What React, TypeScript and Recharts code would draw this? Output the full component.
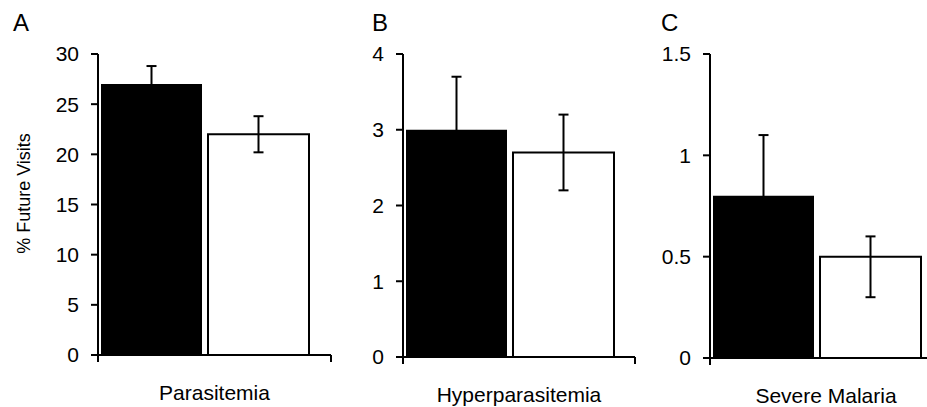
import { BarChart, Bar, XAxis, YAxis, ErrorBar } from 'recharts';

const categories = ['Parasitemia', 'Hyperparasitemia', 'Severe Malaria'];
const panelLetters = ['A', 'B', 'C'];
const blackValues = [27, 3, 0.8];
const blackErrors = [1.8, 0.7, 0.3];
const whiteValues = [22, 2.7, 0.5];
const whiteErrors: [number, number][] = [[1.8, 1.8], [0.5, 0.5], [0.2, 0.1]];
const yTicks = [
  [0, 5, 10, 15, 20, 25, 30],
  [0, 1, 2, 3, 4],
  [0, 0.5, 1, 1.5],
];
const yLabel = '% Future Visits';

const FONT = '"Liberation Sans", Arial, sans-serif';
const Y_AXIS_W = 60;
const X_AXIS_H = 44;
const TOP = 54;
const PAD_L = 3;
const PAD_R = 22;

// page layout of each panel
const panels = [
  { left: 0, width: 340, marginLeft: 38, marginRight: 9, zeroY: 355, letterX: 13 },
  { left: 340, width: 305, marginLeft: 3, marginRight: 10, zeroY: 357, letterX: 372 },
  { left: 645, width: 305, marginLeft: 5, marginRight: 8, zeroY: 358, letterX: 661 },
];

function makeXTick(plotWidth: number) {
  return (props: any) => {
    const { x, y, payload } = props;
    const inner = plotWidth - PAD_L - PAD_R;
    const x0 = x - PAD_L - inner / 2;
    const x1 = x0 + plotWidth;
    return (
      <g>
        <line x1={x0} y1={y} x2={x0} y2={y + 7} stroke="#000" strokeWidth={2} />
        <line x1={x1} y1={y} x2={x1} y2={y + 7} stroke="#000" strokeWidth={2} />
        <text
          x={(x0 + x1) / 2}
          y={y + 45}
          textAnchor="middle"
          fontSize={21}
          fontFamily={FONT}
          fill="#000"
        >
          {payload.value}
        </text>
      </g>
    );
  };
}

function YLabel(props: any) {
  const { viewBox } = props;
  const cx = viewBox.x - 14;
  const cy = viewBox.y + viewBox.height / 2 - 11;
  return (
    <text
      transform={`translate(${cx}, ${cy}) rotate(-90)`}
      textAnchor="middle"
      dominantBaseline="central"
      fontSize={18}
      fontFamily={FONT}
      fill="#000"
    >
      {yLabel}
    </text>
  );
}

function Panel({ index }: { index: number }) {
  const p = panels[index];
  const ticks = yTicks[index];
  const data = [
    {
      name: categories[index],
      black: blackValues[index],
      blackErr: blackErrors[index],
      white: whiteValues[index],
      whiteErr: whiteErrors[index],
    },
  ];
  const plotWidth = p.width - p.marginLeft - p.marginRight - Y_AXIS_W;
  return (
    <div style={{ position: 'absolute', left: p.left, top: 0 }}>
      <BarChart
        width={p.width}
        height={407}
        data={data}
        margin={{ top: TOP, right: p.marginRight, left: p.marginLeft, bottom: 407 - p.zeroY - X_AXIS_H }}
        barCategoryGap={0}
        barGap={6}
      >
        <XAxis
          dataKey="name"
          height={X_AXIS_H}
          padding={{ left: PAD_L, right: PAD_R }}
          axisLine={{ stroke: '#000', strokeWidth: 2 }}
          tickLine={false}
          tickSize={0}
          tickMargin={0}
          tick={makeXTick(plotWidth)}
        />
        <YAxis
          width={Y_AXIS_W}
          domain={[0, ticks[ticks.length - 1]]}
          ticks={ticks}
          interval={0}
          axisLine={{ stroke: '#000', strokeWidth: 2 }}
          tickLine={{ stroke: '#000', strokeWidth: 2 }}
          tickSize={7}
          tickMargin={12}
          tick={{ fill: '#000', fontSize: 21, fontFamily: FONT }}
          label={index === 0 ? <YLabel /> : undefined}
        />
        <Bar dataKey="black" fill="#000" isAnimationActive={false}>
          <ErrorBar dataKey="blackErr" width={5} strokeWidth={2} stroke="#000" direction="y" />
        </Bar>
        <Bar dataKey="white" fill="#fff" stroke="#000" strokeWidth={2} isAnimationActive={false}>
          <ErrorBar dataKey="whiteErr" width={5} strokeWidth={2} stroke="#000" direction="y" />
        </Bar>
      </BarChart>
    </div>
  );
}

export default function App() {
  return (
    <div
      style={{
        position: 'absolute',
        left: 0,
        top: 0,
        width: 927,
        height: 407,
        overflow: 'hidden',
        background: '#fff',
        fontFamily: FONT,
      }}
    >
      {panels.map((_, i) => (
        <Panel key={i} index={i} />
      ))}
      <svg width={927} height={407} style={{ position: 'absolute', left: 0, top: 0, pointerEvents: 'none' }}>
        {panels.map((p, i) => (
          <text key={i} x={p.letterX} y={31} fontSize={24} fontFamily={FONT} fill="#000">
            {panelLetters[i]}
          </text>
        ))}
      </svg>
    </div>
  );
}
